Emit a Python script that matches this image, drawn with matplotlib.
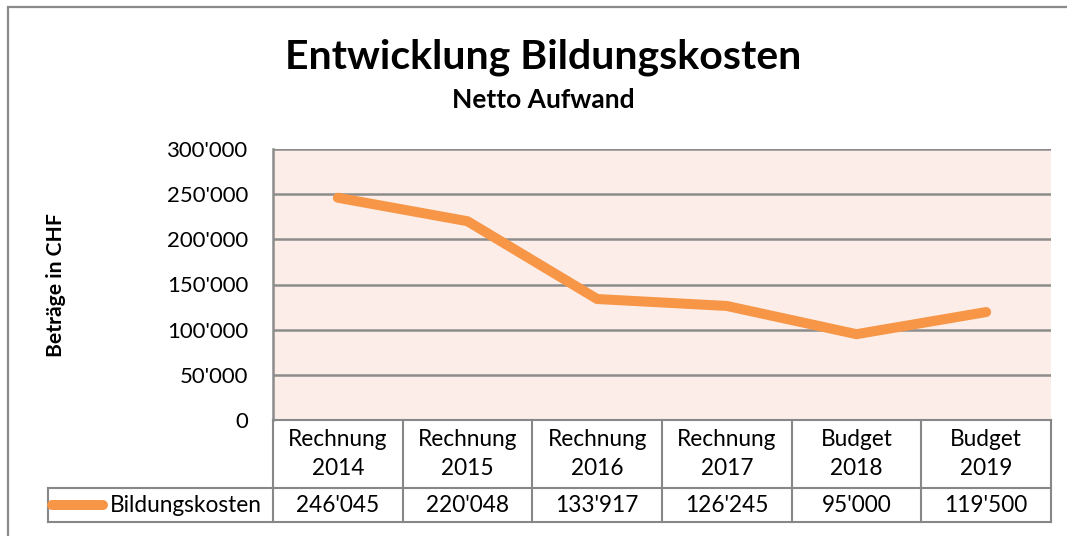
import matplotlib
matplotlib.use("Agg")
import matplotlib.pyplot as plt
from matplotlib.patches import Rectangle
from matplotlib.ticker import FuncFormatter

# Daten
kategorien = ["Rechnung\n2014", "Rechnung\n2015", "Rechnung\n2016",
              "Rechnung\n2017", "Budget\n2018", "Budget\n2019"]
werte = [246045, 220048, 133917, 126245, 95000, 119500]
serie = "Bildungskosten"
y_ticks = [0, 50000, 100000, 150000, 200000, 250000, 300000]

ORANGE = "#F79646"
BG = "#FCEDE8"
GRID = "#8C8C8C"
BORDER = "#878787"
FS = 16.3

plt.rcParams["font.family"] = ["Lato", "DejaVu Sans"]


def tsd(v, _=None):
    return f"{int(v):,}".replace(",", "'")


W, H = 1067, 536
fig = plt.figure(figsize=(W / 100, H / 100), dpi=100)

# äusserer Rahmen (rechts/unten ausserhalb des Bildes)
fig.patches.append(Rectangle((8 / W, -0.1), 1.2, (H - 7) / H + 0.1, transform=fig.transFigure,
                             fill=False, ec="#8A8A8A", lw=1.6))

left, right = 273 / W, 1051 / W
ax = fig.add_axes([left, (H - 420) / H, right - left, (420 - 149) / H])
x = list(range(len(werte)))
ax.set_facecolor(BG)
ax.plot(x, werte, color=ORANGE, lw=7.2, solid_capstyle="round", solid_joinstyle="round", zorder=3)
ax.set_xlim(-0.5, len(werte) - 0.5)
ax.set_ylim(0, 300000)
ax.set_yticks(y_ticks)
ax.yaxis.set_major_formatter(FuncFormatter(tsd))
ax.set_xticks([])
ax.grid(axis="y", color=GRID, lw=1.8)
ax.set_axisbelow(True)
for s in ["top", "right", "bottom"]:
    ax.spines[s].set_visible(False)
ax.spines["left"].set_color(GRID)
ax.spines["left"].set_linewidth(1.8)
ax.tick_params(axis="y", length=0, pad=18, labelsize=15.9, labelcolor="black")

fig.text(543 / W, 1 - 68 / H, "Entwicklung Bildungskosten", ha="center", va="baseline",
         fontsize=29.5, fontweight="bold")
fig.text(543 / W, 1 - 108 / H, "Netto Aufwand", ha="center", va="baseline",
         fontsize=19, fontweight="bold")
fig.text(56 / W, 1 - 285 / H, "Beträge in CHF", ha="center", va="center", rotation=90,
         fontsize=15.2, fontweight="bold")

# Datentabelle
tab = fig.add_axes([left, (H - 522) / H, right - left, (522 - 420) / H])
tab.set_xlim(-0.5, len(werte) - 0.5)
tab.set_ylim(0, 3)
tab.axis("off")
zelle = (1051 - 273) / len(werte)
leg_left = -0.5 - (273 - 48) / zelle
kw = dict(color=BORDER, lw=1.5, clip_on=False)
tab.plot([leg_left, len(werte) - 0.5], [1, 1], **kw)
tab.plot([leg_left, len(werte) - 0.5], [0, 0], **kw)
tab.plot([leg_left, leg_left], [0, 1], **kw)
tab.plot([-0.5, len(werte) - 0.5], [3, 3], **kw)
for i in range(len(werte) + 1):
    tab.plot([i - 0.5, i - 0.5], [0, 3], **kw)
for i, (k, v) in enumerate(zip(kategorien, werte)):
    tab.text(i, 2.0, k, ha="center", va="center", fontsize=FS, linespacing=1.5)
    tab.text(i, 0.5, tsd(v), ha="center", va="center", fontsize=FS)
l0 = leg_left + (52 - 48) / zelle
l1 = leg_left + (103 - 48) / zelle
tab.plot([l0, l1], [0.5, 0.5], color=ORANGE, lw=7.2, solid_capstyle="round", clip_on=False)
tab.text(leg_left + (110 - 48) / zelle, 0.5, serie, ha="left", va="center", fontsize=FS)

fig.savefig("out.png", dpi=100)
